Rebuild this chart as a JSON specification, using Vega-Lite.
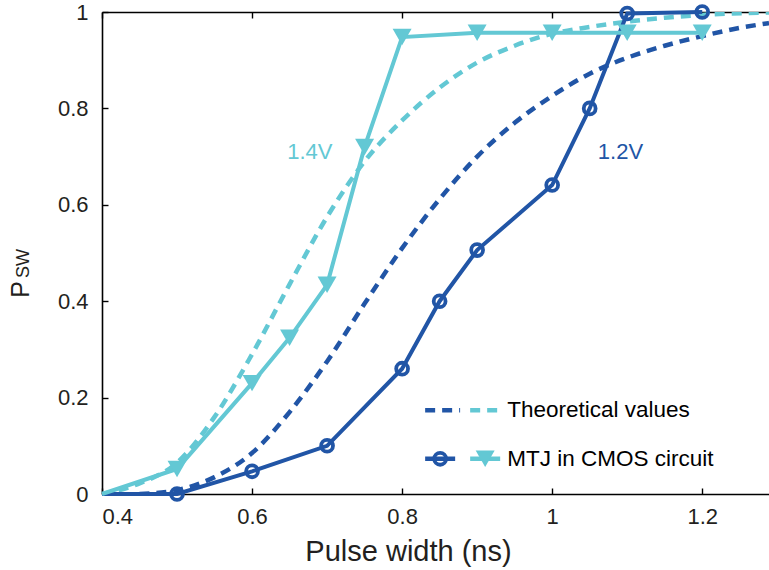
{
  "$schema": "https://vega.github.io/schema/vega-lite/v6.json",
  "autosize": {"type": "none"},
  "padding": {"left": 102, "top": 12, "right": 0, "bottom": 76},
  "width": 667,
  "height": 482,
  "background": "white",
  "config": {
    "view": {"stroke": null},
    "font": "Liberation Sans",
    "axis": {
      "grid": false,
      "domainColor": "#000000",
      "domainWidth": 1.6,
      "tickColor": "#000000",
      "tickWidth": 1.4,
      "tickSize": -6,
      "labelFont": "Liberation Sans",
      "labelFontSize": 22,
      "labelColor": "#231f20",
      "titleFont": "Liberation Sans",
      "titleFontWeight": "normal",
      "titleColor": "#231f20"
    }
  },
  "datasets": {
    "theory": [
      {"x": 0.45, "y": 0.0, "series": "1.2V"},
      {"x": 0.5, "y": 0.008, "series": "1.2V"},
      {"x": 0.55, "y": 0.035, "series": "1.2V"},
      {"x": 0.6, "y": 0.085, "series": "1.2V"},
      {"x": 0.65, "y": 0.17, "series": "1.2V"},
      {"x": 0.7, "y": 0.275, "series": "1.2V"},
      {"x": 0.75, "y": 0.395, "series": "1.2V"},
      {"x": 0.8, "y": 0.51, "series": "1.2V"},
      {"x": 0.85, "y": 0.612, "series": "1.2V"},
      {"x": 0.9, "y": 0.7, "series": "1.2V"},
      {"x": 0.95, "y": 0.77, "series": "1.2V"},
      {"x": 1.0, "y": 0.826, "series": "1.2V"},
      {"x": 1.05, "y": 0.872, "series": "1.2V"},
      {"x": 1.1, "y": 0.905, "series": "1.2V"},
      {"x": 1.15, "y": 0.93, "series": "1.2V"},
      {"x": 1.2, "y": 0.95, "series": "1.2V"},
      {"x": 1.25, "y": 0.967, "series": "1.2V"},
      {"x": 1.289, "y": 0.977, "series": "1.2V"},
      {"x": 0.4, "y": 0.0, "series": "1.4V"},
      {"x": 0.45, "y": 0.022, "series": "1.4V"},
      {"x": 0.5, "y": 0.065, "series": "1.4V"},
      {"x": 0.55, "y": 0.16, "series": "1.4V"},
      {"x": 0.6, "y": 0.29, "series": "1.4V"},
      {"x": 0.65, "y": 0.435, "series": "1.4V"},
      {"x": 0.7, "y": 0.575, "series": "1.4V"},
      {"x": 0.75, "y": 0.69, "series": "1.4V"},
      {"x": 0.8, "y": 0.775, "series": "1.4V"},
      {"x": 0.85, "y": 0.843, "series": "1.4V"},
      {"x": 0.9, "y": 0.895, "series": "1.4V"},
      {"x": 0.95, "y": 0.93, "series": "1.4V"},
      {"x": 1.0, "y": 0.955, "series": "1.4V"},
      {"x": 1.05, "y": 0.969, "series": "1.4V"},
      {"x": 1.1, "y": 0.98, "series": "1.4V"},
      {"x": 1.15, "y": 0.988, "series": "1.4V"},
      {"x": 1.2, "y": 0.994, "series": "1.4V"},
      {"x": 1.289, "y": 0.999, "series": "1.4V"}
    ],
    "exp": [
      {"x": 0.4, "y": 0.0, "series": "1.2V"},
      {"x": 0.5, "y": 0.0, "series": "1.2V"},
      {"x": 0.6, "y": 0.047, "series": "1.2V"},
      {"x": 0.7, "y": 0.1, "series": "1.2V"},
      {"x": 0.8, "y": 0.26, "series": "1.2V"},
      {"x": 0.85, "y": 0.4, "series": "1.2V"},
      {"x": 0.9, "y": 0.506, "series": "1.2V"},
      {"x": 1.0, "y": 0.641, "series": "1.2V"},
      {"x": 1.05, "y": 0.8, "series": "1.2V"},
      {"x": 1.1, "y": 0.997, "series": "1.2V"},
      {"x": 1.2, "y": 1.0, "series": "1.2V"},
      {"x": 0.4, "y": 0.0, "series": "1.4V"},
      {"x": 0.5, "y": 0.052, "series": "1.4V"},
      {"x": 0.6, "y": 0.23, "series": "1.4V"},
      {"x": 0.65, "y": 0.324, "series": "1.4V"},
      {"x": 0.7, "y": 0.434, "series": "1.4V"},
      {"x": 0.75, "y": 0.72, "series": "1.4V"},
      {"x": 0.8, "y": 0.948, "series": "1.4V"},
      {"x": 0.9, "y": 0.957, "series": "1.4V"},
      {"x": 1.0, "y": 0.957, "series": "1.4V"},
      {"x": 1.1, "y": 0.957, "series": "1.4V"},
      {"x": 1.2, "y": 0.957, "series": "1.4V"}
    ],
    "legendLines": [
      {"x": 0.8307, "y": 0.174, "series": "1.2V", "kind": "theory", "seg": "a"},
      {"x": 0.8773, "y": 0.174, "series": "1.2V", "kind": "theory", "seg": "a"},
      {"x": 0.8907, "y": 0.174, "series": "1.4V", "kind": "theory", "seg": "b"},
      {"x": 0.9307, "y": 0.174, "series": "1.4V", "kind": "theory", "seg": "b"},
      {"x": 0.8307, "y": 0.073, "series": "1.2V", "kind": "exp", "seg": "c"},
      {"x": 0.8707, "y": 0.073, "series": "1.2V", "kind": "exp", "seg": "c"},
      {"x": 0.8907, "y": 0.073, "series": "1.4V", "kind": "exp", "seg": "d"},
      {"x": 0.9307, "y": 0.073, "series": "1.4V", "kind": "exp", "seg": "d"}
    ],
    "legendMarks": [
      {"x": 0.8507, "y": 0.073, "series": "1.2V"},
      {"x": 0.9107, "y": 0.073, "series": "1.4V"}
    ],
    "labels": [
      {"x": 0.677, "y": 0.71, "text": "1.4V", "series": "1.4V"},
      {"x": 1.091, "y": 0.71, "text": "1.2V", "series": "1.2V"}
    ],
    "legendText": [
      {"x": 0.94, "y": 0.174, "text": "Theoretical values"},
      {"x": 0.94, "y": 0.073, "text": "MTJ in CMOS circuit"}
    ],
    "ytitle": [
      {"x": 0.3027, "y": 0.478, "text": "SW"}
    ]
  },
  "resolve": {"axis": {"x": "independent"}},
  "layer": [
    {
      "data": {"name": "theory"},
      "mark": {"type": "line", "strokeWidth": 4.5, "strokeDash": [10, 7], "interpolate": "monotone", "clip": true},
      "encoding": {
        "x": {
          "field": "x", "type": "quantitative",
          "scale": {"domain": [0.4, 1.289], "nice": false, "zero": false},
          "axis": {
            "orient": "bottom",
            "values": [0.4, 0.6, 0.8, 1.0, 1.2],
            "format": "~g",
            "labelPadding": 18,
            "title": "Pulse width (ns)",
            "titleFontSize": 29,
            "titleX": 306,
            "titleY": 66,
            "titleAlign": "center",
            "titleBaseline": "alphabetic",
            "titleAnchor": null
          }
        },
        "y": {
          "field": "y", "type": "quantitative",
          "scale": {"domain": [0, 1], "nice": false},
          "axis": {
            "values": [0, 0.2, 0.4, 0.6, 0.8, 1],
            "format": "~g",
            "labelPadding": 20,
            "title": "P",
            "titleFontSize": 25,
            "titleAngle": 270,
            "titleX": -74,
            "titleY": 277,
            "titleAlign": "center",
            "titleBaseline": "alphabetic",
            "titleAnchor": null
          }
        },
        "color": {
          "field": "series", "type": "nominal",
          "scale": {"domain": ["1.2V", "1.4V"], "range": ["#2155a6", "#63c8d4"]},
          "legend": null
        },
        "detail": {"field": "series"}
      }
    },
    {
      "data": {"name": "exp"},
      "mark": {"type": "line", "strokeWidth": 4},
      "encoding": {
        "x": {
          "field": "x", "type": "quantitative",
          "axis": {"orient": "top", "values": [0.4, 0.6, 0.8, 1.0, 1.2], "labels": false, "title": null}
        },
        "y": {"field": "y", "type": "quantitative"},
        "color": {"field": "series", "type": "nominal", "legend": null},
        "detail": {"field": "series"}
      }
    },
    {
      "data": {"name": "exp"},
      "transform": [{"filter": "datum.series === '1.2V' && datum.x > 0.45"}],
      "mark": {"type": "point", "shape": "circle", "filled": false, "size": 140, "strokeWidth": 3.8, "opacity": 1},
      "encoding": {
        "x": {"field": "x", "type": "quantitative", "axis": null},
        "y": {"field": "y", "type": "quantitative"},
        "color": {"field": "series", "type": "nominal", "legend": null}
      }
    },
    {
      "data": {"name": "exp"},
      "transform": [{"filter": "datum.series === '1.4V' && datum.x > 0.45"}],
      "mark": {"type": "point", "shape": "triangle-down", "filled": true, "size": 360, "opacity": 1},
      "encoding": {
        "x": {"field": "x", "type": "quantitative", "axis": null},
        "y": {"field": "y", "type": "quantitative"},
        "color": {"field": "series", "type": "nominal", "legend": null}
      }
    },
    {
      "data": {"name": "legendLines"},
      "mark": {"type": "line", "strokeWidth": 4.5},
      "encoding": {
        "x": {"field": "x", "type": "quantitative", "axis": null},
        "y": {"field": "y", "type": "quantitative"},
        "color": {"field": "series", "type": "nominal", "legend": null},
        "detail": {"field": "seg"},
        "strokeDash": {
          "field": "kind", "type": "nominal",
          "scale": {"domain": ["theory", "exp"], "range": [[10, 7], [1, 0]]},
          "legend": null
        }
      }
    },
    {
      "data": {"name": "legendMarks"},
      "transform": [{"filter": "datum.series === '1.2V'"}],
      "mark": {"type": "point", "shape": "circle", "filled": false, "size": 140, "strokeWidth": 3.8, "opacity": 1},
      "encoding": {
        "x": {"field": "x", "type": "quantitative", "axis": null},
        "y": {"field": "y", "type": "quantitative"},
        "color": {"field": "series", "type": "nominal", "legend": null}
      }
    },
    {
      "data": {"name": "legendMarks"},
      "transform": [{"filter": "datum.series === '1.4V'"}],
      "mark": {"type": "point", "shape": "triangle-down", "filled": true, "size": 360, "opacity": 1},
      "encoding": {
        "x": {"field": "x", "type": "quantitative", "axis": null},
        "y": {"field": "y", "type": "quantitative"},
        "color": {"field": "series", "type": "nominal", "legend": null}
      }
    },
    {
      "data": {"name": "labels"},
      "mark": {"type": "text", "fontSize": 22, "font": "Liberation Sans", "align": "center", "baseline": "middle"},
      "encoding": {
        "x": {"field": "x", "type": "quantitative", "axis": null},
        "y": {"field": "y", "type": "quantitative"},
        "text": {"field": "text"},
        "color": {"field": "series", "type": "nominal", "legend": null}
      }
    },
    {
      "data": {"name": "legendText"},
      "mark": {"type": "text", "fontSize": 22.5, "font": "Liberation Sans", "align": "left", "baseline": "middle", "color": "#000000"},
      "encoding": {
        "x": {"field": "x", "type": "quantitative", "axis": null},
        "y": {"field": "y", "type": "quantitative"},
        "text": {"field": "text"}
      }
    },
    {
      "data": {"name": "ytitle"},
      "mark": {"type": "text", "fontSize": 18, "font": "Liberation Sans", "align": "center", "baseline": "alphabetic", "angle": 270, "color": "#231f20", "clip": false},
      "encoding": {
        "x": {"field": "x", "type": "quantitative", "axis": null},
        "y": {"field": "y", "type": "quantitative"},
        "text": {"field": "text"}
      }
    }
  ]
}
